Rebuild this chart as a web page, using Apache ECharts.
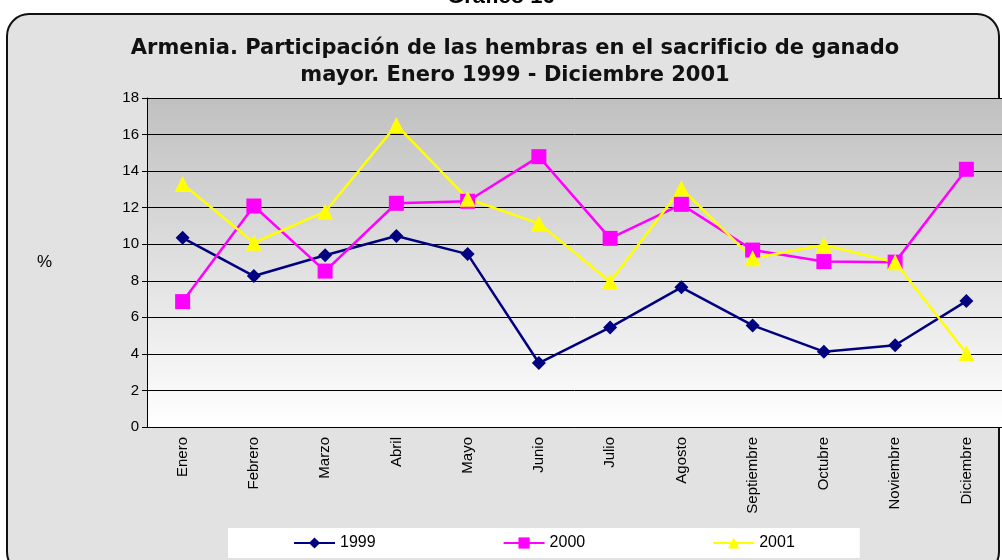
<!doctype html>
<html lang="es">
<head>
    <meta charset="utf-8">
    <title>Armenia - Participación de las hembras</title>
    <script src="https://cdn.jsdelivr.net/npm/echarts@6/dist/echarts.min.js"></script>
    <style>
        html, body {margin: 0; padding: 0; background: #fff;}
        #chart {width: 1002px; height: 560px;}
    </style>
</head>
<body>
<div id="chart"></div>
<script>
    // datos
    let meses = ['Enero', 'Febrero', 'Marzo', 'Abril', 'Mayo', 'Junio', 'Julio', 'Agosto', 'Septiembre', 'Octubre', 'Noviembre', 'Diciembre'];
    let serie1999 = [10.35, 8.26, 9.4, 10.45, 9.46, 3.5, 5.45, 7.64, 5.56, 4.12, 4.47, 6.89];
    let serie2000 = [6.86, 12.09, 8.53, 12.24, 12.35, 14.79, 10.32, 12.18, 9.68, 9.05, 9.02, 14.1];
    let serie2001 = [13.3, 10.08, 11.78, 16.52, 12.49, 11.14, 7.95, 13.06, 9.23, 9.96, 9.01, 4.03];

    let chart = echarts.init(document.getElementById('chart'));

    function linea(nombre, datos, color, simbolo, tam) {
        return {
            name: nombre,
            type: 'line',
            data: datos,
            symbol: simbolo,
            symbolSize: tam,
            showAllSymbol: true,
            lineStyle: {color: color, width: 2.5},
            itemStyle: {color: color},
            z: 3
        };
    }

    chart.setOption({
        animation: false,
        textStyle: {fontFamily: 'Liberation Sans, Arial, sans-serif'},
        graphic: [{
            type: 'rect',
            z: -10,
            shape: {x: 7, y: 14, width: 992, height: 560, r: 22},
            style: {fill: '#e2e2e2', stroke: '#111', lineWidth: 2}
        }, {
            type: 'rect',
            z: -9,
            shape: {x: 147, y: 98, width: 860, height: 329},
            style: {
                fill: new echarts.graphic.LinearGradient(0, 0, 0, 1, [
                    {offset: 0, color: '#c0c0c0'},
                    {offset: 1, color: '#ffffff'}
                ])
            }
        }],
        title: [{
            text: 'Gráfico 16',
            left: 'center',
            top: -19,
            textStyle: {fontSize: 22, fontWeight: 'bold', color: '#000'}
        }, {
            text: 'Armenia. Participación de las hembras en el sacrificio de ganado\nmayor. Enero 1999 - Diciembre 2001',
            left: 510,
            textAlign: 'center',
            top: 30,
            textStyle: {
                fontFamily: 'DejaVu Sans',
                fontSize: 21,
                fontWeight: 'bold',
                lineHeight: 27,
                color: '#111'
            }
        }],
        legend: {
            left: 228,
            top: 528,
            backgroundColor: '#fff',
            padding: [7, 65, 7, 65],
            itemGap: 127,
            itemWidth: 41,
            itemHeight: 14,
            textStyle: {fontSize: 16, color: '#000'},
            data: ['1999', '2000', '2001']
        },
        grid: {left: 147, top: 98, right: -5, bottom: 133},
        xAxis: {
            type: 'category',
            data: meses,
            axisLine: {lineStyle: {color: '#000', width: 1}},
            axisTick: {alignWithLabel: false, length: 5, lineStyle: {color: '#000'}},
            axisLabel: {rotate: 90, fontSize: 15, color: '#000', margin: 10, interval: 0}
        },
        yAxis: {
            type: 'value',
            min: 0,
            max: 18,
            interval: 2,
            name: '%',
            nameLocation: 'middle',
            nameRotate: 0,
            nameGap: 95,
            nameTextStyle: {fontSize: 17, color: '#000'},
            axisLine: {show: true, lineStyle: {color: '#000'}},
            axisTick: {show: true, length: 5, lineStyle: {color: '#000'}},
            axisLabel: {fontSize: 15, color: '#000', margin: 8},
            splitLine: {lineStyle: {color: '#000', width: 1}}
        },
        series: [
            linea('1999', serie1999, '#000080', 'diamond', 14),
            linea('2000', serie2000, '#ff00ff', 'rect', 15),
            linea('2001', serie2001, '#ffff00', 'triangle', 16)
        ]
    });

    window.onresize = function () {
        chart.resize();
    };
</script>
</body>
</html>
